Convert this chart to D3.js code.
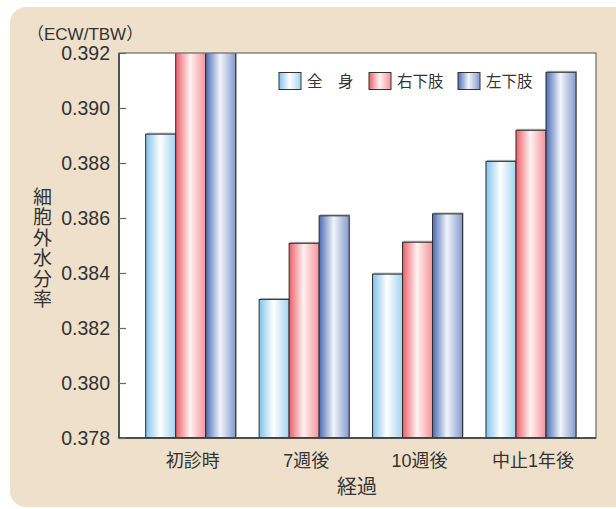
<!DOCTYPE html>
<html><head><meta charset="utf-8">
<script src="https://cdn.jsdelivr.net/npm/d3@7/dist/d3.min.js"></script>
<style>
html,body{margin:0;padding:0;background:#fff;}
svg{display:block;}
text{font-family:"Liberation Sans","Noto Sans CJK JP",sans-serif;fill:#333;}
.jp{font-family:"Noto Sans CJK JP","Liberation Sans",sans-serif;}
</style></head>
<body>
<svg id="c" width="616" height="509"></svg>
<script>
// ---- data ----
const categories = ["初診時", "7週後", "10週後", "中止1年後"];
const series = ["全　身", "右下肢", "左下肢"];
const wholeBody = [0.38905, 0.38304, 0.38396, 0.38806];
const rightLeg  = [0.39300, 0.38508, 0.38512, 0.38919];
const leftLeg   = [0.39300, 0.38608, 0.38615, 0.39130];
const yTicks = [0.378, 0.380, 0.382, 0.384, 0.386, 0.388, 0.390, 0.392];
const yUnit = "（ECW/TBW）";
const yTitle = "細胞外水分率";
const xTitle = "経過";

const values = [wholeBody, rightLeg, leftLeg];
const gradStops = [
  ["#80c3eb", "#ffffff", "#a2d3f0"],
  ["#ec5f68", "#fff2f2", "#f39497"],
  ["#4a6db5", "#f2f4fb", "#839bce"]
];

const svg = d3.select("#c");
const defs = svg.append("defs");
gradStops.forEach((s, i) => {
  const g = defs.append("linearGradient").attr("id", "g" + i)
    .attr("x1", "0%").attr("x2", "100%").attr("y1", "0%").attr("y2", "0%");
  g.append("stop").attr("offset", "0%").attr("stop-color", s[0]);
  g.append("stop").attr("offset", "48%").attr("stop-color", s[1]);
  g.append("stop").attr("offset", "100%").attr("stop-color", s[2]);
});

// background panel
svg.append("rect").attr("x", 10).attr("y", 7).attr("width", 640).attr("height", 500)
  .attr("rx", 16).attr("fill", "#eee0cb");

const L = 119, T = 53, R = 596, B = 438;
defs.append("clipPath").attr("id", "clip").append("rect")
  .attr("x", L).attr("y", T).attr("width", R - L).attr("height", B - T);

svg.append("rect").attr("x", L).attr("y", T).attr("width", R - L).attr("height", B - T)
  .attr("fill", "#fff");

const y = d3.scaleLinear().domain([0.378, 0.392]).range([B, T]);
const x = d3.scaleBand().domain(categories).range([145.7, 576]).paddingInner(0.2063).paddingOuter(0);
const xs = d3.scaleBand().domain(series).range([0, x.bandwidth()]);

const bars = svg.append("g").attr("clip-path", "url(#clip)");
series.forEach((s, si) => {
  categories.forEach((c, ci) => {
    const v = values[si][ci];
    const bx = x(c) + xs(s), by = y(v), bw = xs.bandwidth(), bh = B - y(v);
    bars.append("rect").attr("x", bx + 1).attr("y", by - 1.5).attr("width", bw).attr("height", bh)
      .attr("fill", "#9a9a9a").attr("opacity", 0.7);
  });
});
series.forEach((s, si) => {
  categories.forEach((c, ci) => {
    const v = values[si][ci];
    bars.append("rect")
      .attr("x", x(c) + xs(s)).attr("y", y(v))
      .attr("width", xs.bandwidth()).attr("height", B - y(v))
      .attr("fill", `url(#g${si})`).attr("stroke", "#2b2b2b").attr("stroke-width", 1);
  });
});

// frame
svg.append("rect").attr("x", L).attr("y", T).attr("width", R - L).attr("height", B - T)
  .attr("fill", "none").attr("stroke", "#6a6a6a").attr("stroke-width", 1.2);
svg.append("path").attr("d", `M${L},${T}V${B}H${R}`).attr("fill", "none")
  .attr("stroke", "#333").attr("stroke-width", 1.4);

// y axis
const ya = svg.append("g").attr("transform", `translate(${L},0)`)
  .call(d3.axisLeft(y).tickValues(yTicks).tickFormat(d3.format(".3f"))
    .tickSizeInner(-7).tickSizeOuter(0).tickPadding(9));
ya.select(".domain").remove();
ya.selectAll(".tick line").attr("stroke", "#666").attr("stroke-width", 1.2);
ya.selectAll(".tick text").attr("font-size", 19.5).attr("fill", "#333")
  .style("font-family", '"Liberation Sans", sans-serif');

// x labels
svg.append("g").selectAll("text").data(categories).join("text")
  .attr("x", d => x(d) + x.bandwidth() / 2 + 2).attr("y", 467)
  .attr("text-anchor", "middle").attr("font-size", 18).text(d => d);

svg.append("text").attr("class", "jp").attr("x", 357).attr("y", 494)
  .attr("text-anchor", "middle").attr("font-size", 20).text(xTitle);

svg.append("text").attr("x", 27).attr("y", 39.5)
  .attr("font-size", 17).text(yUnit);

svg.append("text").attr("class", "jp")
  .attr("x", 42.5).attr("y", 187)
  .style("writing-mode", "vertical-rl").style("text-orientation", "upright")
  .attr("letter-spacing", 1.5)
  .attr("font-size", 19).text(yTitle);

// legend
const legX = [279, 369, 458];
const lg = svg.append("g");
series.forEach((s, i) => {
  lg.append("rect").attr("x", legX[i]).attr("y", 72.5).attr("width", 22).attr("height", 17)
    .attr("fill", `url(#g${i})`).attr("stroke", "#333").attr("stroke-width", 1);
  lg.append("text").attr("class", "jp").attr("x", legX[i] + 28).attr("y", 86.5)
    .attr("font-size", 15.5).text(s);
});
</script>
</body></html>
